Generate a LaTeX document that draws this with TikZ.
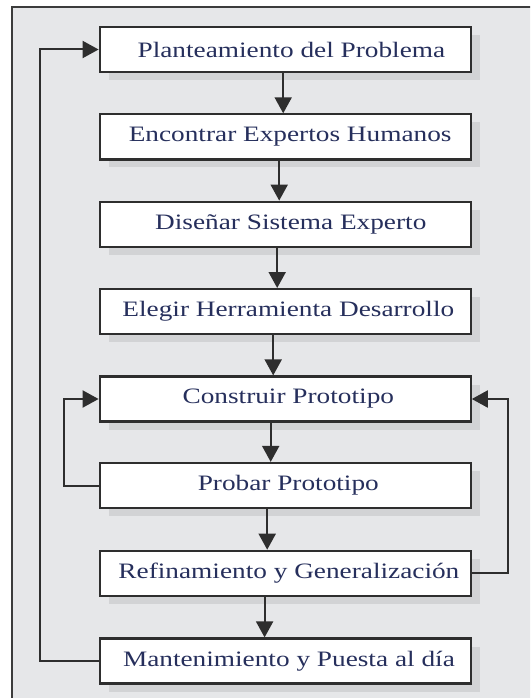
\documentclass[tikz,border=0pt]{standalone}
\usepackage{fontspec}
\setmainfont{Liberation Serif}
\usetikzlibrary{arrows.meta,shadows}
\definecolor{bggray}{HTML}{E6E7E9}
\definecolor{shadowgray}{HTML}{D2D3D5}
\definecolor{linegray}{HTML}{2E2E2E}
\definecolor{framegray}{HTML}{3C3C3C}
\definecolor{txtblue}{HTML}{262F5C}
\newcommand{\boxtext}[2]{\scalebox{1.24}[1]{\hspace*{#1pt}#2}}
\begin{document}
\begin{tikzpicture}[x=1pt,y=-1pt,
  stepbox/.style={rectangle, draw=linegray, line width=2.2pt, fill=white,
    minimum width=371pt, minimum height=45pt, inner sep=0pt,
    text=txtblue, font=\fontsize{22}{26}\selectfont,
    drop shadow={shadow xshift=9pt, shadow yshift=-8pt, fill=shadowgray, opacity=1}},
  arr/.style={draw=linegray, line width=2pt, -{Triangle[length=16pt,width=17pt]}}]
\useasboundingbox (0,0) rectangle (530,698);
\clip (0,0) rectangle (530,698);
\fill[white] (0,0) rectangle (530,698);
\draw[draw=framegray, line width=2pt, fill=bggray] (12,7.5) rectangle (580,740);
\node[stepbox] (b1) at (285.2,49.5) {\boxtext{10}{Planteamiento del Problema}};
\node[stepbox] (b2) at (285.2,136.9) {\boxtext{8}{Encontrar Expertos Humanos}};
\node[stepbox] (b3) at (285.2,224.2) {\boxtext{9}{Diseñar Sistema Experto}};
\node[stepbox] (b4) at (285.2,311.6) {\boxtext{5}{Elegir Herramienta Desarrollo}};
\node[stepbox] (b5) at (285.2,399.0) {\boxtext{5}{Construir Prototipo}};
\node[stepbox] (b6) at (285.2,485.5) {\boxtext{5}{Probar Prototipo}};
\node[stepbox] (b7) at (285.2,573.3) {\boxtext{6}{Refinamiento y Generalización}};
\node[stepbox] (b8) at (285.2,661.0) {\boxtext{6}{Mantenimiento y Puesta al día}};
\draw[arr] ([xshift=-2pt]b1.south) -- ([xshift=-2pt]b2.north);
\draw[arr] ([xshift=-6pt]b2.south) -- ([xshift=-6pt]b3.north);
\draw[arr] ([xshift=-8pt]b3.south) -- ([xshift=-8pt]b4.north);
\draw[arr] ([xshift=-12pt]b4.south) -- ([xshift=-12pt]b5.north);
\draw[arr] ([xshift=-14.5pt]b5.south) -- ([xshift=-14.5pt]b6.north);
\draw[arr] ([xshift=-18pt]b6.south) -- ([xshift=-18pt]b7.north);
\draw[arr] ([xshift=-20.6pt]b7.south) -- ([xshift=-20.6pt]b8.north);
\draw[arr] (b8.west) -- ++(-59,0) |- (b1.west);
\draw[arr] (b6.west) -- ++(-34.7,0) |- (b5.west);
\draw[arr] (b7.east) -- ++(36.4,0) |- (b5.east);
\end{tikzpicture}
\end{document}
